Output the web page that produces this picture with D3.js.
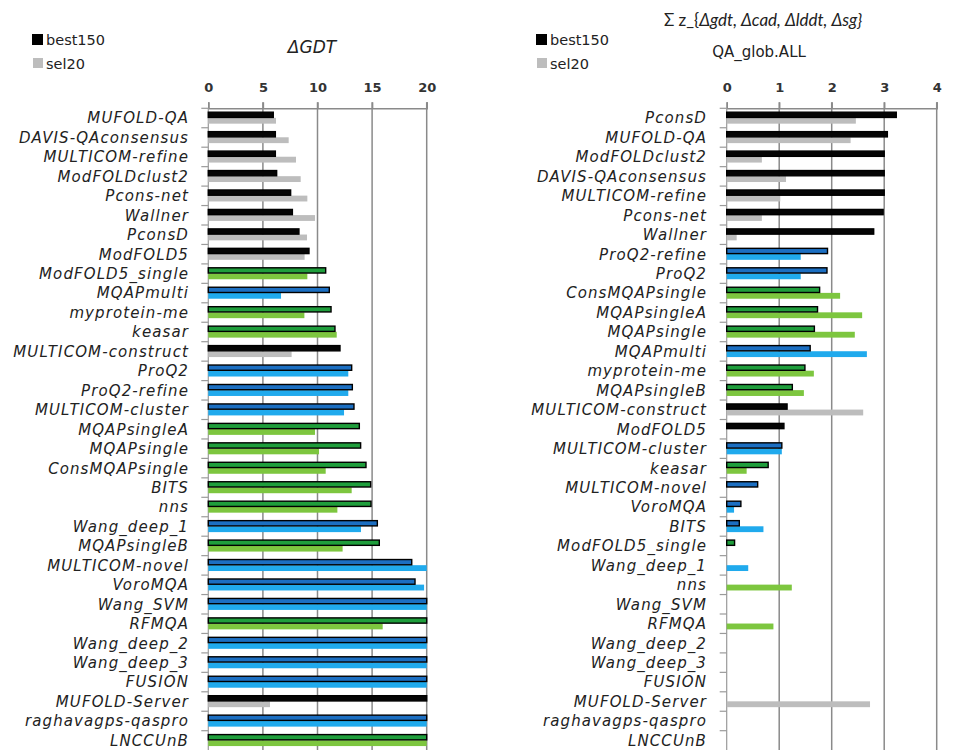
<!DOCTYPE html>
<html>
<head>
<meta charset="utf-8">
<script src="https://cdn.jsdelivr.net/npm/d3@7"></script>
<style>
  body { margin: 0; background: #fff; }
  svg { display: block; }
</style>
</head>
<body>
<svg id="chart" width="953" height="750"></svg>
<script>
// ---------- DATA ----------
const leftCategories = ["MUFOLD-QA","DAVIS-QAconsensus","MULTICOM-refine","ModFOLDclust2","Pcons-net","Wallner","PconsD","ModFOLD5","ModFOLD5_single","MQAPmulti","myprotein-me","keasar","MULTICOM-construct","ProQ2","ProQ2-refine","MULTICOM-cluster","MQAPsingleA","MQAPsingle","ConsMQAPsingle","BITS","nns","Wang_deep_1","MQAPsingleB","MULTICOM-novel","VoroMQA","Wang_SVM","RFMQA","Wang_deep_2","Wang_deep_3","FUSION","MUFOLD-Server","raghavagps-qaspro","LNCCUnB"];
const leftGroups = ["c","c","c","c","c","c","c","c","s","q","s","s","c","q","q","q","s","s","s","s","s","q","s","q","q","q","s","q","q","q","c","q","s"];
const leftBest150 = [5.95,6.14,6.14,6.26,7.54,7.7,8.3,9.22,10.75,11.08,11.24,11.6,12.06,13.13,13.19,13.34,13.83,13.95,14.44,14.87,14.9,15.48,15.66,18.63,18.93,20,20,20,20,20,20,20,20];
const leftSel20 = [6.2,7.36,8.03,8.46,9.07,9.77,9.04,8.82,9.07,6.66,8.8,11.76,7.63,12.82,12.82,12.43,9.77,10.14,10.75,13.13,11.82,13.98,12.3,20,19.76,20,15.97,20,20,20,5.65,20,20];
const leftTicks = [0,5,10,15,20];

const rightCategories = ["PconsD","MUFOLD-QA","ModFOLDclust2","DAVIS-QAconsensus","MULTICOM-refine","Pcons-net","Wallner","ProQ2-refine","ProQ2","ConsMQAPsingle","MQAPsingleA","MQAPsingle","MQAPmulti","myprotein-me","MQAPsingleB","MULTICOM-construct","ModFOLD5","MULTICOM-cluster","keasar","MULTICOM-novel","VoroMQA","BITS","ModFOLD5_single","Wang_deep_1","nns","Wang_SVM","RFMQA","Wang_deep_2","Wang_deep_3","FUSION","MUFOLD-Server","raghavagps-qaspro","LNCCUnB"];
const rightGroups = ["c","c","c","c","c","c","c","q","q","s","s","s","q","s","s","c","c","q","s","q","q","q","s","q","s","q","s","q","q","q","c","q","s"];
const rightBest150 = [3.23,3.06,3.0,3.0,3.0,2.98,2.8,1.92,1.91,1.77,1.73,1.67,1.59,1.49,1.25,1.15,1.09,1.05,0.79,0.59,0.27,0.24,0.15,null,null,null,null,null,null,null,null,null,null];
const rightSel20 = [2.46,2.36,0.67,1.13,1.02,0.67,0.19,1.41,1.41,2.16,2.58,2.44,2.67,1.66,1.47,2.6,null,1.05,0.38,null,0.14,0.7,null,0.41,1.24,null,0.89,null,null,null,2.73,null,null];
const rightTicks = [0,1,2,3,4];

const seriesNames = ["best150","sel20"];
const bestColors = {c:"#050505", s:"#1f9e3c", q:"#1c6fc2"};
const selColors  = {c:"#bdbdbd", s:"#7dc63f", q:"#20aaed"};

// ---------- DRAW ----------
const svg = d3.select("#chart");
const FONT = "'DejaVu Sans', Verdana, sans-serif";
const plotTop = 108.3, band = 19.45;

function panel(opts) {
  const n = opts.categories.length;
  const x = d3.scaleLinear().domain(opts.domain).range(opts.range);
  const y = d3.scaleBand().domain(opts.categories).range([plotTop, plotTop + n * band]).paddingInner(0).paddingOuter(0);
  const g = svg.append("g");

  // gridlines
  g.selectAll("line.grid").data(opts.ticks.slice(1)).join("line")
    .attr("x1", d => x(d)).attr("x2", d => x(d))
    .attr("y1", plotTop - 6).attr("y2", 750)
    .attr("stroke", "#8a8a8a").attr("stroke-width", 1.5);

  // top axis
  const axis = d3.axisTop(x).tickValues(opts.ticks).tickFormat(d3.format("d")).tickSize(6).tickPadding(10);
  const ag = g.append("g").attr("transform", `translate(0,${plotTop})`).call(axis);
  ag.select(".domain").attr("stroke", "#8a8a8a").attr("stroke-width", 1.5);
  ag.selectAll(".tick line").attr("stroke", "#8a8a8a").attr("stroke-width", 1.5);
  ag.selectAll(".tick text").attr("font-family", FONT).attr("font-size", 13).attr("font-weight", "bold").attr("fill", "#333");

  // left axis with category boundary ticks
  g.append("line").attr("x1", x(0)).attr("x2", x(0)).attr("y1", plotTop).attr("y2", 750)
    .attr("stroke", "#9a9a9a").attr("stroke-width", 1.2);
  g.selectAll("line.cat").data(opts.categories).join("line")
    .attr("x1", x(0) - 7).attr("x2", x(0))
    .attr("y1", d => y(d)).attr("y2", d => y(d))
    .attr("stroke", "#9a9a9a").attr("stroke-width", 1.2);

  // sel20 bars (lower half)
  g.selectAll("rect.sel").data(opts.categories.map((c, i) => ({c, v: opts.sel[i], grp: opts.groups[i]})).filter(d => d.v != null))
    .join("rect")
    .attr("x", x(0)).attr("y", d => y(d.c) + band * 0.49)
    .attr("width", d => x(d.v) - x(0)).attr("height", band * 0.3)
    .attr("fill", d => selColors[d.grp]);

  // best150 bars (upper half)
  g.selectAll("rect.best").data(opts.categories.map((c, i) => ({c, v: opts.best[i], grp: opts.groups[i]})).filter(d => d.v != null))
    .join("rect")
    .attr("x", x(0)).attr("y", d => y(d.c) + band * 0.2)
    .attr("width", d => x(d.v) - x(0)).attr("height", band * 0.27)
    .attr("fill", d => bestColors[d.grp])
    .attr("stroke", "#000").attr("stroke-width", 1.4);

  // category labels
  g.selectAll("text.cat").data(opts.categories).join("text")
    .attr("x", opts.labelX).attr("y", d => y(d) + band / 2)
    .attr("dy", "0.36em").attr("text-anchor", "end")
    .attr("font-family", FONT).attr("font-style", "italic").attr("font-size", 15)
    .attr("letter-spacing", 1.1)
    .attr("fill", "#222")
    .text(d => d);

  // legend
  const lg = g.append("g").attr("transform", `translate(${opts.legendX},0)`);
  lg.append("rect").attr("x", 0).attr("y", 34).attr("width", 11).attr("height", 11).attr("fill", "#000");
  lg.append("rect").attr("x", 1).attr("y", 58).attr("width", 10).attr("height", 10).attr("fill", "#bdbdbd");
  lg.selectAll("text").data(seriesNames).join("text")
    .attr("x", 14).attr("y", (d, i) => 40 + i * 24).attr("dy", "0.35em")
    .attr("font-family", FONT).attr("font-size", 14.5).attr("fill", "#222")
    .text(d => d);
  return g;
}

panel({categories: leftCategories, groups: leftGroups, best: leftBest150, sel: leftSel20,
  ticks: leftTicks, domain: [0, 20], range: [208.3, 426.7], labelX: 189, legendX: 32});
panel({categories: rightCategories, groups: rightGroups, best: rightBest150, sel: rightSel20,
  ticks: rightTicks, domain: [0, 4], range: [726.7, 936.7], labelX: 707, legendX: 536});

// titles
svg.append("text").attr("x", 312).attr("y", 47).attr("dy", "0.35em").attr("text-anchor", "middle")
  .attr("font-family", FONT).attr("font-style", "italic").attr("font-size", 17).attr("fill", "#222")
  .text("ΔGDT");
const t2 = svg.append("text").attr("x", 763).attr("y", 20).attr("dy", "0.35em").attr("text-anchor", "middle")
  .attr("font-family", "Lato, 'Open Sans', sans-serif").attr("font-size", 17).attr("fill", "#222");
t2.append("tspan").text("Σ z_{");
t2.append("tspan").attr("font-style", "italic").text("Δgdt, Δcad, Δlddt, Δsg}");
svg.append("text").attr("x", 759).attr("y", 52).attr("dy", "0.35em").attr("text-anchor", "middle")
  .attr("font-family", FONT).attr("font-size", 15).attr("fill", "#222")
  .text("QA_glob.ALL");
</script>
</body>
</html>
